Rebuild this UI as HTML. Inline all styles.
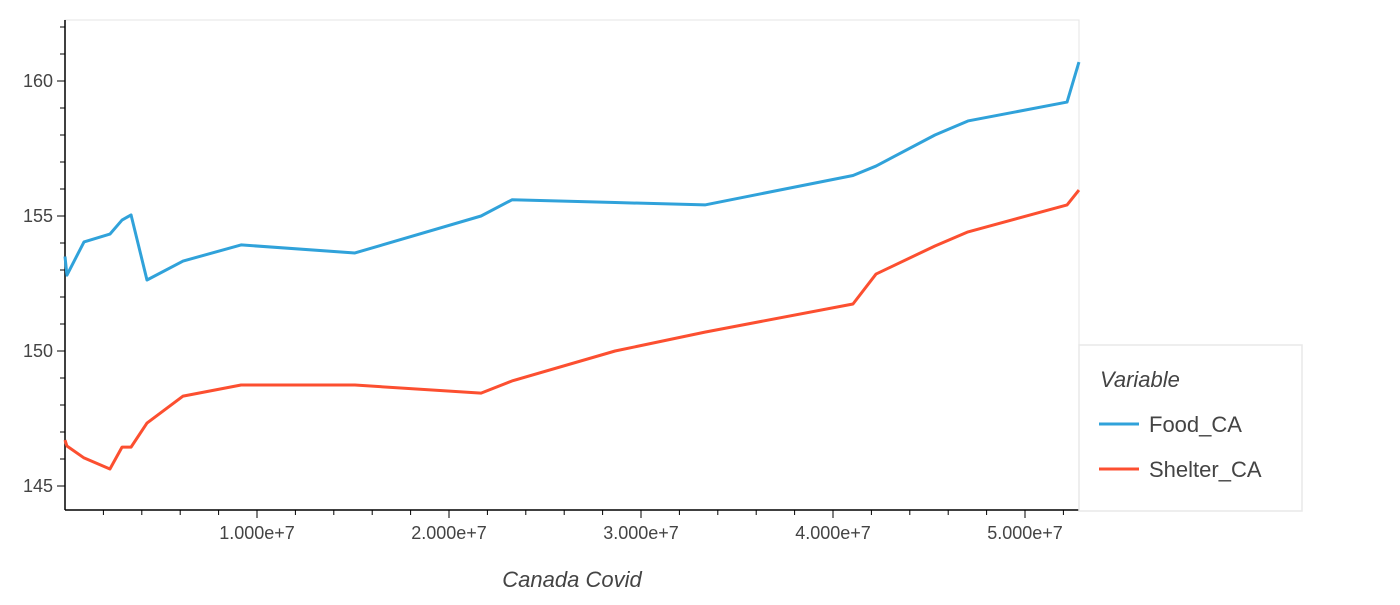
<!DOCTYPE html>
<html><head><meta charset="utf-8"><style>
body{margin:0;background:#fff;font-family:"Liberation Sans",sans-serif}
svg text{fill:#444}
</style></head><body>
<svg id="c" width="1400" height="600"></svg>
<script>
const xs=[0,0.01,0.099,0.234,0.297,0.344,0.427,0.615,0.917,1.51,2.167,2.328,2.865,3.333,4.104,4.224,4.531,4.703,5.219,5.281];
const food=[153.5,152.81,154.04,154.33,154.85,155.04,152.63,153.33,153.93,153.63,155.0,155.6,155.5,155.41,156.5,156.85,158.0,158.52,159.22,160.7];
const shelter=[146.7,146.48,146.04,145.63,146.44,146.44,147.33,148.33,148.74,148.74,148.44,148.89,150.0,150.7,151.74,152.85,153.89,154.41,155.41,155.96];
const yTicks=[145,150,155,160];
const xTicks=[1,2,3,4,5];
const xTickLabels=["1.000e+7","2.000e+7","3.000e+7","4.000e+7","5.000e+7"];
const L=65,R=1079,T=20,B=510;
const X=v=>L+v*192, Y=v=>81+(160-v)*27;
const s=document.getElementById('c');const NS='http://www.w3.org/2000/svg';
function el(t,a,p){const e=document.createElementNS(NS,t);for(const k in a)e.setAttribute(k,a[k]);(p||s).appendChild(e);return e;}
let e;
e=el('rect',{x:L,y:T,width:R-L,height:B-T,fill:'none',stroke:'#e5e5e5'});


e=el('line',{x1:L,y1:T,x2:L,y2:B,stroke:'#000','stroke-width':1.5});


e=el('line',{x1:L,y1:B,x2:R,y2:B,stroke:'#000','stroke-width':1.5});


for(let v=145;v<=162;v++){const y=Y(v);if(y<T)continue;const maj=v%5==0;
e=el('line',{x1:L-(maj?8:5),x2:L,y1:y,y2:y,stroke:'#000'});

}
for(let v=0.2;v<5.28;v+=0.2){const x=X(v);
e=el('line',{x1:x,x2:x,y1:B,y2:B+(Math.abs(v-Math.round(v))<0.01?8:5),stroke:'#000'});

}
yTicks.forEach(v=>{e=el('text',{x:L-12,y:Y(v)+6,'text-anchor':'end','font-size':18});e.textContent=v;

});
xTicks.forEach((v,i)=>{e=el('text',{x:X(v),y:B+29,'text-anchor':'middle','font-size':18});e.textContent=xTickLabels[i];

});
e=el('text',{x:572,y:587,'text-anchor':'middle','font-size':22,'font-style':'italic'});e.textContent='Canada Covid';


function line(d,c,n){e=el('polyline',{points:xs.map((v,i)=>X(v)+','+Y(d[i])).join(' '),fill:'none',stroke:c,'stroke-width':3,'stroke-linejoin':'round'});

}
line(food,'#30a2da','food-ca-line');line(shelter,'#fc4f30','shelter-ca-line');
e=el('rect',{x:1079,y:345,width:223,height:166,fill:'#fff',stroke:'#e8e8e8','stroke-width':1.5});


e=el('text',{x:1100,y:387,'font-size':22,'font-style':'italic'});e.textContent='Variable';


[['Food_CA','#30a2da',424],['Shelter_CA','#fc4f30',469]].forEach(([n,c,y])=>{
e=el('line',{x1:1099,x2:1139,y1:y,y2:y,stroke:c,'stroke-width':3});


e=el('text',{x:1149,y:y+8,'font-size':22});e.textContent=n;

});
</script>
</body></html>
